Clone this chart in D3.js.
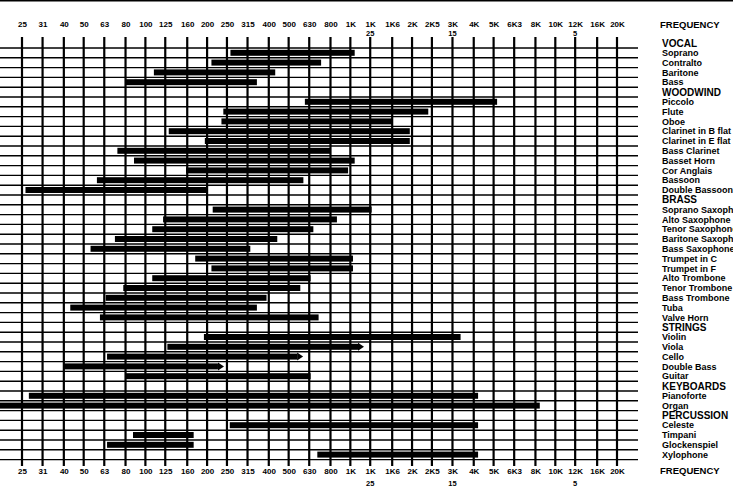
<!DOCTYPE html>
<html>
<head>
<meta charset="utf-8">
<script src="https://cdn.jsdelivr.net/npm/d3@7"></script>
<style>
  body { margin: 0; background: #fff; }
  svg { display: block; }
  text { font-family: "Liberation Sans", Arial, sans-serif; font-weight: bold; fill: #000; }
</style>
</head>
<body>
<div id="chart"></div>
<script>
// third-octave bands along the frequency axis
var bandFreqs = [25, 31.5, 40, 50, 63, 80, 100, 125, 160, 200, 250, 315, 400, 500, 630, 800,
  1000, 1250, 1600, 2000, 2500, 3150, 4000, 5000, 6300, 8000, 10000, 12500, 16000, 20000];
var bandLabels = ["25", "31", "40", "50", "63", "80", "100", "125", "160", "200", "250", "315", "400", "500", "630", "800",
  "1K", "1K", "1K6", "2K", "2K5", "3K", "4K", "5K", "6K3", "8K", "10K", "12K", "16K", "20K"];
var subFreqs = [1250, 3150, 12500];
var subLabels = ["25", "15", "5"];

// rows down the right side (sections + instruments)
var rows = ["VOCAL", "Soprano", "Contralto", "Baritone", "Bass",
  "WOODWIND", "Piccolo", "Flute", "Oboe", "Clarinet in B flat", "Clarinet in E flat", "Bass Clarinet",
  "Basset Horn", "Cor Anglais", "Bassoon", "Double Bassoon",
  "BRASS", "Soprano Saxophone", "Alto Saxophone", "Tenor Saxophone", "Baritone Saxophone", "Bass Saxophone",
  "Trumpet in C", "Trumpet in F", "Alto Trombone", "Tenor Trombone", "Bass Trombone", "Tuba", "Valve Horn",
  "STRINGS", "Violin", "Viola", "Cello", "Double Bass", "Guitar",
  "KEYBOARDS", "Pianoforte", "Organ",
  "PERCUSSION", "Celeste", "Timpani", "Glockenspiel", "Xylophone"];
var headers = ["VOCAL", "WOODWIND", "BRASS", "STRINGS", "KEYBOARDS", "PERCUSSION"];

// frequency range of each instrument (Hz)
var instruments = ["Soprano", "Contralto", "Baritone", "Bass",
  "Piccolo", "Flute", "Oboe", "Clarinet in B flat", "Clarinet in E flat", "Bass Clarinet",
  "Basset Horn", "Cor Anglais", "Bassoon", "Double Bassoon",
  "Soprano Saxophone", "Alto Saxophone", "Tenor Saxophone", "Baritone Saxophone", "Bass Saxophone",
  "Trumpet in C", "Trumpet in F", "Alto Trombone", "Tenor Trombone", "Bass Trombone", "Tuba", "Valve Horn",
  "Violin", "Viola", "Cello", "Double Bass", "Guitar",
  "Pianoforte", "Organ",
  "Celeste", "Timpani", "Glockenspiel", "Xylophone"];
var lowHz = [260, 210, 110, 80,
  600, 240, 235, 130, 195, 73,
  88, 158, 58, 26,
  213, 122, 108, 71, 54,
  175, 210, 108, 78, 64, 43, 60,
  193, 128, 65, 40, 80,
  27, 16,
  258, 87, 65, 690];
var highHz = [1050, 720, 430, 350,
  5200, 2400, 1600, 1950, 1950, 800,
  1050, 975, 590, 200,
  1270, 860, 660, 440, 325,
  1030, 1030, 640, 570, 390, 350, 700,
  3450, 1090, 550, 226, 640,
  4200, 8400,
  4200, 172, 172, 4200];
var arrowed = ["Viola", "Cello", "Double Bass"];

var width = 733, height = 496;

var svg = d3.select("#chart")
  .append("svg")
    .attr("width", width)
    .attr("height", height);

var x = d3.scaleLog()
    .domain([25, 20000])
    .range([22, 617]);
var y = d3.scalePoint()
    .domain(rows)
    .range([43, 454.6]);

// border at the very top
svg.append("line")
    .attr("x1", 0).attr("x2", width)
    .attr("y1", 0.75).attr("y2", 0.75)
    .attr("stroke", "#000").attr("stroke-width", 1.5);

// horizontal grid lines under each row
svg.append("g").selectAll("line")
    .data(rows)
  .enter().append("line")
    .attr("x1", 0).attr("x2", 638)
    .attr("y1", function(d) { return y(d) + 5; })
    .attr("y2", function(d) { return y(d) + 5; })
    .attr("stroke", "#000").attr("stroke-width", 1.4);

// vertical grid lines at each band
svg.append("g").selectAll("line")
    .data(bandFreqs)
  .enter().append("line")
    .attr("x1", function(d) { return x(d); })
    .attr("x2", function(d) { return x(d); })
    .attr("y1", 37).attr("y2", 466)
    .attr("stroke", "#000").attr("stroke-width", 2.2);

// range bars
var bars = svg.append("g");
bars.selectAll("rect")
    .data(instruments)
  .enter().append("rect")
    .attr("x", function(d, i) { return Math.max(0, x(lowHz[i])); })
    .attr("width", function(d, i) { return x(highHz[i]) - Math.max(0, x(lowHz[i])); })
    .attr("y", function(d) { return y(d) - 3; })
    .attr("height", 6)
    .attr("fill", "#000");

bars.selectAll("path")
    .data(arrowed)
  .enter().append("path")
    .attr("d", function(d) {
      var i = instruments.indexOf(d), xe = x(highHz[i]), yc = y(d);
      return "M" + xe + "," + (yc - 4) + "L" + (xe + 6) + "," + yc + "L" + xe + "," + (yc + 4) + "Z";
    })
    .attr("fill", "#000");

// frequency axes, top and bottom
var fmt = function(d, i) { return bandLabels[i]; };
var topAxis = svg.append("g")
    .attr("transform", "translate(0,27)")
    .call(d3.axisTop(x).tickValues(bandFreqs).tickFormat(fmt).tickSize(0).tickPadding(0));
var bottomAxis = svg.append("g")
    .attr("transform", "translate(0,468)")
    .call(d3.axisBottom(x).tickValues(bandFreqs).tickFormat(fmt).tickSize(0).tickPadding(0));
[topAxis, bottomAxis].forEach(function(a) {
  a.select(".domain").remove();
  a.selectAll("text")
    .attr("font-family", "Liberation Sans, Arial, sans-serif")
    .attr("font-weight", "bold")
    .attr("font-size", "8px")
    .attr("fill", "#000");
});

// second line of labels like 1K25, 3K15, 12K5
[35.5, 486].forEach(function(yy) {
  svg.append("g").selectAll("text")
      .data(subFreqs)
    .enter().append("text")
      .attr("x", function(d) { return x(d); })
      .attr("y", yy)
      .attr("text-anchor", "middle")
      .attr("font-size", "7.5px")
      .text(function(d, i) { return subLabels[i]; });
});

// row labels on the right
svg.append("g").selectAll("text")
    .data(rows)
  .enter().append("text")
    .attr("x", 662)
    .attr("y", function(d) { return y(d); })
    .attr("dy", "0.35em")
    .attr("font-size", function(d) { return headers.indexOf(d) >= 0 ? "10px" : "9px"; })
    .text(function(d) { return d; });

svg.append("text")
    .attr("x", 660).attr("y", 28)
    .attr("font-size", "9.5px")
    .text("FREQUENCY");
svg.append("text")
    .attr("x", 660).attr("y", 474)
    .attr("font-size", "9.5px")
    .text("FREQUENCY");
</script>
</body>
</html>
